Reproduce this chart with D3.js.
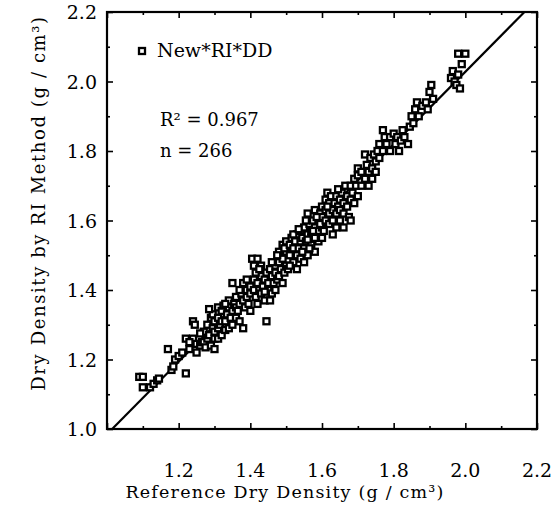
<!DOCTYPE html>
<html>
<head>
<meta charset="utf-8">
<script src="https://cdn.jsdelivr.net/npm/d3@7"></script>
<style>
  body { margin: 0; background: #fff; }
  text { font-family: "DejaVu Serif", serif; fill: #000; }
</style>
</head>
<body>
<div id="canvas"></div>
<script>
"use strict"
let svgWidth = 555;
let svgHeight = 505;

let marginLeft = 107;
let marginRight = 18;
let marginTop = 12;
let marginBottom = 76;

// axis ticks
let majorTicks = [1.0, 1.2, 1.4, 1.6, 1.8, 2.0, 2.2];
let minorTicks = [1.1, 1.3, 1.5, 1.7, 1.9, 2.1];
let xTickLabels = ["", "1.2", "1.4", "1.6", "1.8", "2.0", "2.2"];
let yTickLabels = ["1.0", "1.2", "1.4", "1.6", "1.8", "2.0", "2.2"];

// fitted line  RI = slope * ref + intercept
let fitSlope = 1.043;
let fitIntercept = -0.058;

let statLines = ["R² = 0.967", "n = 266"];
let legendLabel = "New*RI*DD";

// measured points [reference DD, RI DD], grouped by reference range
let pts110 = [[1.09,1.15],[1.10,1.12],[1.10,1.15],[1.12,1.12],[1.13,1.13],[1.14,1.14],
  [1.145,1.145],[1.17,1.23],[1.18,1.17],[1.185,1.18],[1.19,1.20],[1.20,1.21]];
let pts120 = [[1.22,1.16],[1.21,1.22],[1.23,1.23],[1.22,1.26],[1.24,1.26],[1.24,1.31],
  [1.245,1.30],[1.25,1.22],[1.25,1.245],[1.26,1.24],[1.265,1.25],[1.27,1.25],[1.27,1.28],
  [1.275,1.235],[1.28,1.30],[1.28,1.26],[1.285,1.27],[1.29,1.32],[1.29,1.24],[1.295,1.29],
  [1.30,1.23],[1.30,1.26],[1.30,1.28],[1.295,1.33],[1.30,1.31],[1.285,1.345],[1.26,1.275],
  [1.23,1.25]];
let pts130 = [[1.31,1.35],[1.31,1.32],[1.31,1.29],[1.31,1.26],[1.315,1.30],[1.32,1.34],
  [1.32,1.27],[1.32,1.31],[1.325,1.355],[1.33,1.31],[1.33,1.285],[1.335,1.33],[1.34,1.29],
  [1.34,1.37],[1.34,1.35],[1.345,1.32],[1.35,1.30],[1.35,1.34],[1.355,1.36],[1.36,1.35],
  [1.36,1.32],[1.36,1.38],[1.365,1.34],[1.37,1.36],[1.37,1.31],[1.375,1.39],[1.38,1.29],
  [1.38,1.37],[1.38,1.42],[1.385,1.35],[1.39,1.38],[1.39,1.40],[1.39,1.43],[1.395,1.36],
  [1.40,1.39],[1.40,1.34],[1.40,1.41],[1.35,1.42],[1.37,1.40],[1.33,1.36]];
let pts140 = [[1.405,1.49],[1.41,1.47],[1.42,1.49],[1.41,1.43],[1.41,1.40],[1.415,1.38],
  [1.42,1.42],[1.42,1.36],[1.425,1.40],[1.43,1.44],[1.43,1.39],[1.435,1.41],[1.44,1.37],
  [1.44,1.43],[1.445,1.31],[1.445,1.45],[1.45,1.40],[1.45,1.42],[1.455,1.46],[1.46,1.44],
  [1.46,1.39],[1.465,1.42],[1.47,1.47],[1.47,1.45],[1.47,1.40],[1.475,1.43],[1.48,1.48],
  [1.48,1.44],[1.48,1.51],[1.485,1.46],[1.49,1.42],[1.49,1.49],[1.49,1.53],[1.495,1.45],
  [1.50,1.47],[1.50,1.51],[1.50,1.54],[1.43,1.47],[1.46,1.48],[1.44,1.395],[1.415,1.45],
  [1.455,1.37],[1.475,1.50],[1.495,1.52],[1.425,1.46]];
let pts150 = [[1.505,1.46],[1.51,1.50],[1.51,1.53],[1.515,1.55],[1.52,1.48],[1.52,1.52],
  [1.525,1.54],[1.53,1.46],[1.53,1.50],[1.53,1.56],[1.535,1.52],[1.54,1.54],[1.54,1.49],
  [1.54,1.57],[1.545,1.55],[1.55,1.48],[1.55,1.52],[1.55,1.58],[1.555,1.54],[1.56,1.56],
  [1.56,1.50],[1.56,1.62],[1.565,1.59],[1.57,1.53],[1.57,1.57],[1.57,1.55],[1.575,1.60],
  [1.58,1.51],[1.58,1.58],[1.58,1.63],[1.585,1.56],[1.59,1.54],[1.59,1.60],[1.59,1.57],
  [1.595,1.62],[1.60,1.58],[1.60,1.55],[1.60,1.64],[1.60,1.61],[1.52,1.56],[1.535,1.575],
  [1.545,1.51],[1.565,1.52],[1.575,1.57],[1.585,1.61],[1.595,1.59],[1.51,1.47],[1.555,1.60],
  [1.58,1.55],[1.56,1.545]];
let pts160 = [[1.605,1.57],[1.61,1.60],[1.61,1.63],[1.61,1.66],[1.615,1.68],[1.62,1.59],
  [1.62,1.62],[1.62,1.65],[1.625,1.67],[1.63,1.60],[1.63,1.63],[1.63,1.56],[1.635,1.65],
  [1.64,1.62],[1.64,1.58],[1.64,1.67],[1.645,1.64],[1.65,1.60],[1.65,1.66],[1.65,1.63],
  [1.655,1.68],[1.66,1.58],[1.66,1.65],[1.66,1.62],[1.665,1.70],[1.67,1.64],[1.67,1.67],
  [1.675,1.61],[1.68,1.66],[1.68,1.70],[1.68,1.60],[1.685,1.68],[1.69,1.72],[1.69,1.65],
  [1.695,1.70],[1.70,1.73],[1.70,1.75],[1.70,1.67],[1.615,1.64],[1.645,1.69]];
let pts170 = [[1.71,1.70],[1.71,1.74],[1.72,1.72],[1.72,1.79],[1.725,1.76],[1.73,1.74],
  [1.73,1.70],[1.735,1.78],[1.74,1.75],[1.74,1.72],[1.745,1.79],[1.75,1.77],[1.75,1.74],
  [1.755,1.80],[1.76,1.78],[1.76,1.82],[1.77,1.86],[1.77,1.80],[1.775,1.84],[1.78,1.82],
  [1.79,1.80],[1.79,1.84]];
let pts180 = [[1.80,1.85],[1.805,1.82],[1.81,1.84],[1.815,1.80],[1.82,1.83],[1.825,1.86],
  [1.83,1.84],[1.84,1.82],[1.845,1.87],[1.85,1.90],[1.855,1.88],[1.86,1.92],[1.865,1.94],
  [1.87,1.90],[1.88,1.93],[1.89,1.94],[1.895,1.92]];
let pts190 = [[1.90,1.97],[1.905,1.99],[1.91,1.95],[1.96,2.01],[1.965,2.03],[1.97,2.00],
  [1.975,1.99],[1.98,2.02],[1.98,2.08],[1.99,2.05],[2.00,2.08],[1.985,1.98]];

let points = [].concat(pts110, pts120, pts130, pts140, pts150, pts160, pts170, pts180, pts190);

let svg = d3.select("#canvas")
  .append("svg")
  .attr("width", svgWidth)
  .attr("height", svgHeight);

let xScale = d3.scaleLinear()
  .domain([1.0, 2.2])
  .range([marginLeft, svgWidth - marginRight]);
let yScale = d3.scaleLinear()
  .domain([1.0, 2.2])
  .range([svgHeight - marginBottom, marginTop]);

let plotBottom = svgHeight - marginBottom;
let plotRight = svgWidth - marginRight;

// inward ticks on all four sides
function tickAxes(values, len) {
  let g = svg.append("g").attr("class", "ticks");
  g.append("g").attr("transform", "translate(0," + plotBottom + ")")
    .call(d3.axisBottom(xScale).tickValues(values).tickSize(-len).tickFormat(""));
  g.append("g").attr("transform", "translate(0," + marginTop + ")")
    .call(d3.axisTop(xScale).tickValues(values).tickSize(-len).tickFormat(""));
  g.append("g").attr("transform", "translate(" + marginLeft + ",0)")
    .call(d3.axisLeft(yScale).tickValues(values).tickSize(-len).tickFormat(""));
  g.append("g").attr("transform", "translate(" + plotRight + ",0)")
    .call(d3.axisRight(yScale).tickValues(values).tickSize(-len).tickFormat(""));
  g.selectAll(".domain").remove();
  g.selectAll("line").attr("stroke", "#000").attr("stroke-width", 1.6);
}
tickAxes(majorTicks, 6);
tickAxes(minorTicks, 3);

// frame
svg.append("rect")
  .attr("x", marginLeft)
  .attr("y", marginTop)
  .attr("width", plotRight - marginLeft)
  .attr("height", plotBottom - marginTop)
  .attr("fill", "none")
  .attr("stroke", "#000")
  .attr("stroke-width", 2.2);

// tick labels
majorTicks.forEach(function(v, i) {
  svg.append("text")
    .attr("x", xScale(v))
    .attr("y", plotBottom + 48)
    .attr("text-anchor", "middle")
    .attr("font-size", 19)
    .text(xTickLabels[i]);
  svg.append("text")
    .attr("x", marginLeft - 10)
    .attr("y", yScale(v))
    .attr("text-anchor", "end")
    .attr("dominant-baseline", "central")
    .attr("font-size", 19)
    .text(yTickLabels[i]);
});

// fitted line, clipped to the plot square
let lineX0 = (yScale.domain()[0] - fitIntercept) / fitSlope;
let lineX1 = (yScale.domain()[1] - fitIntercept) / fitSlope;
svg.append("line")
  .attr("x1", xScale(lineX0))
  .attr("y1", yScale(fitSlope * lineX0 + fitIntercept))
  .attr("x2", xScale(lineX1))
  .attr("y2", yScale(fitSlope * lineX1 + fitIntercept))
  .attr("stroke", "#000")
  .attr("stroke-width", 2.2);

// data points: open squares
let s = 6;
svg.append("g")
  .selectAll("rect")
  .data(points)
  .join("rect")
  .attr("x", function(d) { return xScale(d[0]) - s / 2; })
  .attr("y", function(d) { return yScale(d[1]) - s / 2; })
  .attr("width", s)
  .attr("height", s)
  .attr("fill", "#fff")
  .attr("stroke", "#000")
  .attr("stroke-width", 2.3);

// legend
svg.append("rect")
  .attr("x", 139)
  .attr("y", 48)
  .attr("width", s)
  .attr("height", s)
  .attr("fill", "#fff")
  .attr("stroke", "#000")
  .attr("stroke-width", 2.3);
svg.append("text")
  .attr("x", 157)
  .attr("y", 57)
  .attr("font-size", 19)
  .text(legendLabel);

// statistics
statLines.forEach(function(t, i) {
  svg.append("text")
    .attr("x", 160)
    .attr("y", 126 + i * 31)
    .attr("font-size", 18)
    .text(t);
});

// axis titles
svg.append("text")
  .attr("x", 285)
  .attr("y", 498)
  .attr("text-anchor", "middle")
  .attr("font-size", 17.5)
  .attr("letter-spacing", 1.2)
  .text("Reference Dry Density (g / cm³)");

svg.append("text")
  .attr("transform", "translate(45,203) rotate(-90)")
  .attr("text-anchor", "middle")
  .attr("font-size", 18)
  .attr("letter-spacing", 1.6)
  .text("Dry Density by RI Method (g / cm³)");
</script>
</body>
</html>
